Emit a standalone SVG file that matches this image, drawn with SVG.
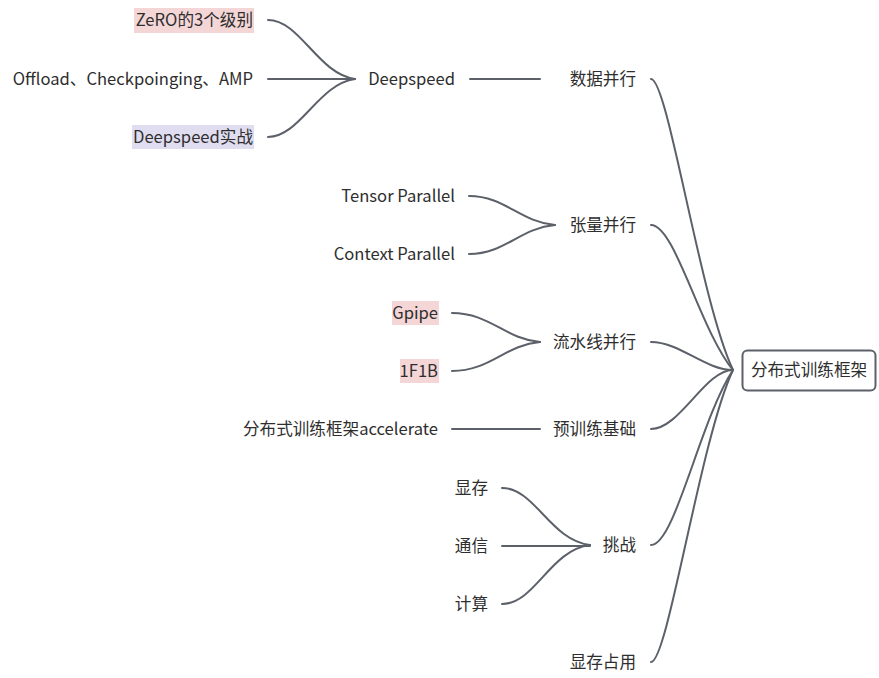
<svg xmlns="http://www.w3.org/2000/svg" width="879" height="678" viewBox="0 0 879 678">
<style>
text{font-family:"Noto Sans CJK SC","Noto Sans",sans-serif;font-size:16.6px;fill:#2e2e2e;}
.r{text-anchor:end;}
.c{stroke:#5c6169;stroke-width:2;fill:none;stroke-linecap:round;}
.pink{fill:#f4d6d6;}
.lav{fill:#e1ddf1;}
</style>
<rect width="879" height="678" fill="#fff"/>
<g id="connectors">
<path class="c" d="M651,79 C668,79 700,300 733,370"/>
<path class="c" d="M651,225 C675,225 700,330 733,370"/>
<path class="c" d="M651,342 C680,342 705,370 733,370"/>
<path class="c" d="M651,429 C680,429 705,370 733,370"/>
<path class="c" d="M651,545 C675,545 700,420 733,370"/>
<path class="c" d="M651,662 C668,662 700,440 733,370"/>
<path class="c" d="M470,79 L540,79"/>
<path class="c" d="M268,20 C300,20 318,74 355,79"/>
<path class="c" d="M268,79 L355,79"/>
<path class="c" d="M268,137 C300,137 318,84 355,79"/>
<path class="c" d="M469,196 C505,196 520,222 555,225"/>
<path class="c" d="M469,254 C505,254 520,228 555,225"/>
<path class="c" d="M452,313 C490,313 505,339 540,342"/>
<path class="c" d="M452,371 C490,371 505,345 540,342"/>
<path class="c" d="M452,429 L540,429"/>
<path class="c" d="M502,488 C535,488 550,540 590,545"/>
<path class="c" d="M502,546 L590,546"/>
<path class="c" d="M502,604 C535,604 550,550 590,545"/>
</g>
<g id="root">
<rect x="742.5" y="350.5" width="133" height="40" rx="5" fill="#fff" stroke="#5c6169" stroke-width="2"/>
<text x="809" y="376" text-anchor="middle">分布式训练框架</text>
</g>
<g id="n-data"><text class="r" x="636" y="85">数据并行</text></g>
<g id="n-tensor"><text class="r" x="636" y="231">张量并行</text></g>
<g id="n-pipe"><text class="r" x="636" y="348">流水线并行</text></g>
<g id="n-pretrain"><text class="r" x="636" y="435">预训练基础</text></g>
<g id="n-challenge"><text class="r" x="636" y="551">挑战</text></g>
<g id="n-mem"><text class="r" x="636" y="668">显存占用</text></g>
<g id="n-deepspeed"><text class="r" x="455" y="85">Deepspeed</text></g>
<g id="n-zero"><rect class="pink" x="134" y="8" width="120" height="25"/><text class="r" x="253" y="26">ZeRO的3个级别</text></g>
<g id="n-offload"><text class="r" x="253" y="85">Offload、Checkpoinging、AMP</text></g>
<g id="n-dsprac"><rect class="lav" x="132" y="125" width="122" height="24"/><text class="r" x="253" y="143">Deepspeed实战</text></g>
<g id="n-tp"><text class="r" x="455" y="202">Tensor Parallel</text></g>
<g id="n-cp"><text class="r" x="455" y="260">Context Parallel</text></g>
<g id="n-gpipe"><rect class="pink" x="392" y="301" width="47" height="24"/><text class="r" x="438" y="319">Gpipe</text></g>
<g id="n-1f1b"><rect class="pink" x="400" y="359" width="39" height="24"/><text class="r" x="438" y="377">1F1B</text></g>
<g id="n-acc"><text class="r" x="438" y="435">分布式训练框架accelerate</text></g>
<g id="n-xc"><text class="r" x="488" y="494">显存</text></g>
<g id="n-tx"><text class="r" x="488" y="552">通信</text></g>
<g id="n-js"><text class="r" x="488" y="610">计算</text></g>
</svg>
